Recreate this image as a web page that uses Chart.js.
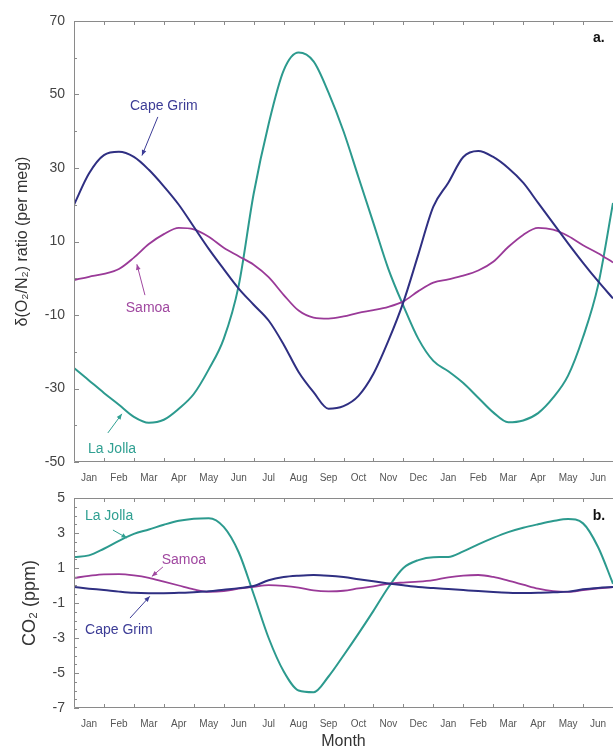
<!DOCTYPE html>
<html lang="en">

<head>
    <meta charset="UTF-8">
    <title>O2/N2 and CO2 seasonal cycles</title>
    <script src="https://cdn.jsdelivr.net/npm/chart.js"></script>
    <style>
        body { margin: 0; background: #fff; }
        #wrap { position: relative; width: 613px; height: 751px; }
        #grafico1 { position: absolute; left: 0; top: 0; }
        #grafico2 { position: absolute; left: 0; top: 485px; }
    </style>
</head>

<body>
    <div id="wrap">
        <canvas id="grafico1" width="613" height="485"></canvas>
        <canvas id="grafico2" width="613" height="266"></canvas>
    </div>

<script>
    // months from the start of the record (0 = start of Jan), every half month
    var monthPos = [0, 0.5, 1, 1.5, 2, 2.5, 3, 3.5, 4, 4.5, 5, 5.5, 6, 6.5, 7, 7.5, 8, 8.5, 9,
        9.5, 10, 10.5, 11, 11.5, 12, 12.5, 13, 13.5, 14, 14.5, 15, 15.5, 16, 16.5, 17, 17.5, 18];
    var monthLabels = ['Jan', 'Feb', 'Mar', 'Apr', 'May', 'Jun', 'Jul', 'Aug', 'Sep', 'Oct', 'Nov', 'Dec',
        'Jan', 'Feb', 'Mar', 'Apr', 'May', 'Jun'];

    // panel a: d(O2/N2), per meg
    var capeGrimO2 = [20, 28.5, 33.5, 34.4, 33, 29.5, 25, 20, 14, 8, 2.5, -2.8, -7.2, -11.5, -18, -25.5, -31, -35.5, -34.8,
        -32, -26, -17, -6.5, 6.5, 19.5, 26, 33, 34.6, 33, 30, 26, 20.5, 15, 9.5, 4.2, -0.8, -5.5];
    var samoaO2 = [-0.5, 0.4, 1.2, 2.5, 5.6, 9.3, 12, 13.7, 13.3, 11.3, 8.3, 6, 3.7, 0.3, -4.5, -8.8, -10.7, -11, -10.4,
        -9.4, -8.7, -7.8, -6.3, -3.5, -1.2, -0.3, 0.7, 2.1, 4.5, 8.5, 11.8, 13.7, 13.2, 11.5, 9, 6.8, 4.3];
    var laJollaO2 = [-24.4, -27.8, -31.2, -34.4, -37.7, -39.3, -38.5, -35.5, -31.5, -24.8, -16.5, -2, 23, 42, 56.5, 61.4, 59, 50.5, 40,
        27.5, 15, 2.5, -7.5, -16.5, -22.5, -25.3, -28.5, -32.5, -36.5, -39.2, -38.7, -36.7, -32.5, -26.5, -16, -2, 20.5];

    // panel b: CO2, ppm
    var capeGrimCO2 = [-0.09, -0.18, -0.26, -0.35, -0.42, -0.44, -0.44, -0.42, -0.38, -0.33, -0.24, -0.15, -0.03, 0.3, 0.48, 0.56, 0.6, 0.56, 0.48,
        0.36, 0.24, 0.12, 0.01, -0.09, -0.14, -0.2, -0.26, -0.32, -0.37, -0.41, -0.43, -0.42, -0.39, -0.35, -0.22, -0.14, -0.09];
    var samoaCO2 = [0.43, 0.55, 0.64, 0.65, 0.58, 0.44, 0.22, 0, -0.22, -0.36, -0.32, -0.18, -0.08, 0.02, -0.02, -0.12, -0.28, -0.33, -0.3,
        -0.17, -0.05, 0.1, 0.17, 0.22, 0.31, 0.47, 0.57, 0.6, 0.49, 0.28, 0.05, -0.18, -0.32, -0.36, -0.27, -0.17, -0.09];
    var laJollaCO2 = [1.63, 1.72, 2.1, 2.55, 2.95, 3.2, 3.47, 3.7, 3.82, 3.85, 3.35, 1.9, -0.5, -3, -4.9, -6, -6.1, -5.2, -4,
        -2.75, -1.45, -0.1, 1, 1.45, 1.62, 1.63, 1.95, 2.35, 2.72, 3.05, 3.3, 3.5, 3.68, 3.8, 3.55, 2.2, 0.1];

    var ticksA = [-50, -30, -10, 10, 30, 50, 70];
    var ticksB = [-7, -5, -3, -1, 1, 3, 5];

    var corCapeGrim = '#2f2f82';
    var corSamoa = '#9a3a98';
    var corLaJolla = '#2c9a8e';

    Chart.defaults.font.family = "'Liberation Sans', Arial, sans-serif";
    Chart.defaults.color = '#444';

    function serie(valores) {
        return monthPos.map(function (m, i) { return { x: m, y: valores[i] }; });
    }

    function linha(nome, valores, cor, largura) {
        return {
            label: nome,
            data: serie(valores),
            borderColor: cor,
            borderWidth: largura,
            pointRadius: 0,
            cubicInterpolationMode: 'monotone',
            fill: false
        };
    }

    // frame, inward tick marks and the hand-placed curve labels
    var molduraPlugin = {
        id: 'moldura',
        afterDraw: function (chart, args, opts) {
            var ctx = chart.ctx;
            var a = chart.chartArea;
            var x = chart.scales.x;
            var y = chart.scales.y;
            ctx.save();
            ctx.strokeStyle = '#8a8a8a';
            ctx.lineWidth = 1;
            ctx.beginPath();
            ctx.moveTo(a.right + 2, a.top + 0.5);
            ctx.lineTo(a.left + 0.5, a.top + 0.5);
            ctx.lineTo(a.left + 0.5, a.bottom - 0.5);
            ctx.lineTo(a.right + 2, a.bottom - 0.5);
            ctx.stroke();

            ctx.beginPath();
            for (var m = 1; m <= 18; m++) {
                var px = Math.round(x.getPixelForValue(m)) + 0.5;
                ctx.moveTo(px, a.top); ctx.lineTo(px, a.top + 4);
                ctx.moveTo(px, a.bottom); ctx.lineTo(px, a.bottom - 4);
            }
            for (var v = y.min; v <= y.max + 1e-9; v += opts.passoMenor) {
                var py = Math.round(y.getPixelForValue(v)) + 0.5;
                var major = opts.maiores.indexOf(Math.round(v * 100) / 100) >= 0;
                ctx.moveTo(a.left, py); ctx.lineTo(a.left + (major ? 5 : 3), py);
            }
            ctx.stroke();

            ctx.textAlign = 'center';
            ctx.textBaseline = 'middle';
            opts.notas.forEach(function (n) {
                ctx.fillStyle = n.cor;
                ctx.font = (n.negrito ? 'bold ' : '') + n.tam + "px 'Liberation Sans', Arial, sans-serif";
                ctx.fillText(n.texto, x.getPixelForValue(n.x), y.getPixelForValue(n.y));
                if (n.seta) {
                    var x0 = x.getPixelForValue(n.seta[0]), y0 = y.getPixelForValue(n.seta[1]);
                    var x1 = x.getPixelForValue(n.seta[2]), y1 = y.getPixelForValue(n.seta[3]);
                    var ang = Math.atan2(y1 - y0, x1 - x0);
                    ctx.strokeStyle = n.cor;
                    ctx.lineWidth = 1;
                    ctx.beginPath();
                    ctx.moveTo(x0, y0); ctx.lineTo(x1, y1);
                    ctx.stroke();
                    ctx.beginPath();
                    ctx.moveTo(x1, y1);
                    ctx.lineTo(x1 - 6 * Math.cos(ang - 0.4), y1 - 6 * Math.sin(ang - 0.4));
                    ctx.lineTo(x1 - 6 * Math.cos(ang + 0.4), y1 - 6 * Math.sin(ang + 0.4));
                    ctx.closePath();
                    ctx.fill();
                }
            });
            ctx.restore();
        }
    };

    function eixoX(altura, titulo) {
        return {
            type: 'linear',
            min: 0,
            max: 18,
            grid: { display: false, drawTicks: false },
            border: { display: false },
            afterBuildTicks: function (scale) {
                scale.ticks = monthLabels.map(function (l, i) { return { value: i + 0.5 }; });
            },
            afterFit: function (scale) {
                scale.height = altura;
                scale.paddingLeft = 0;
                scale.paddingRight = 0;
            },
            ticks: {
                autoSkip: false,
                maxRotation: 0,
                padding: 10,
                font: { size: 10 },
                color: '#555',
                callback: function (v, i) { return monthLabels[i]; }
            },
            title: {
                display: !!titulo,
                text: titulo || '',
                font: { size: 16 },
                color: '#333',
                padding: { top: 0, bottom: 0 }
            }
        };
    }

    function eixoY(min, max, marcas, titulo, tamTitulo, padTitulo) {
        return {
            min: min,
            max: max,
            grid: { display: false, drawTicks: false },
            border: { display: false },
            afterBuildTicks: function (scale) {
                scale.ticks = marcas.map(function (v) { return { value: v }; });
            },
            afterFit: function (scale) {
                scale.width = 74;
                scale.paddingTop = 0;
                scale.paddingBottom = 0;
            },
            ticks: { padding: 9, font: { size: 14 }, color: '#444' },
            title: {
                display: true,
                text: titulo,
                font: { size: tamTitulo },
                color: '#333',
                padding: { top: padTitulo, bottom: 0 }
            }
        };
    }

    var ctx1 = document.getElementById('grafico1');
    var ctx2 = document.getElementById('grafico2');

    new Chart(ctx1, {
        type: 'line',
        data: {
            datasets: [
                linha('Cape Grim', capeGrimO2, corCapeGrim, 2),
                linha('Samoa', samoaO2, corSamoa, 1.8),
                linha('La Jolla', laJollaO2, corLaJolla, 2)
            ]
        },
        options: {
            responsive: false,
            animation: false,
            layout: { padding: { top: 21, right: 0, bottom: 0, left: 0 } },
            scales: {
                x: eixoX(23),
                y: eixoY(-50, 70, ticksA, 'δ(O₂/N₂) ratio (per meg)', 16, 13)
            },
            plugins: {
                legend: { display: false },
                tooltip: { enabled: false },
                moldura: {
                    passoMenor: 10,
                    maiores: ticksA,
                    notas: [
                        { texto: 'Cape Grim', x: 3.0, y: 46.9, cor: '#3c3c96', tam: 14, seta: [2.8, 43.9, 2.27, 33.4] },
                        { texto: 'Samoa', x: 2.47, y: -8.1, cor: '#a048a0', tam: 14, seta: [2.37, -4.6, 2.1, 3.8] },
                        { texto: 'La Jolla', x: 1.27, y: -46.5, cor: '#30a092', tam: 14, seta: [1.13, -42.1, 1.6, -36.9] },
                        { texto: 'a.', x: 17.53, y: 65.4, cor: '#111', tam: 14, negrito: true }
                    ]
                }
            }
        },
        plugins: [molduraPlugin]
    });

    new Chart(ctx2, {
        type: 'line',
        data: {
            datasets: [
                linha('Cape Grim', capeGrimCO2, corCapeGrim, 2),
                linha('Samoa', samoaCO2, corSamoa, 1.8),
                linha('La Jolla', laJollaCO2, corLaJolla, 2)
            ]
        },
        options: {
            responsive: false,
            animation: false,
            layout: { padding: { top: 13, right: 0, bottom: 0, left: 0 } },
            scales: {
                x: eixoX(43, 'Month'),
                y: eixoY(-7, 5, ticksB, 'CO₂ (ppm)', 18, 19)
            },
            plugins: {
                legend: { display: false },
                tooltip: { enabled: false },
                moldura: {
                    passoMenor: 0.5,
                    maiores: ticksB,
                    notas: [
                        { texto: 'La Jolla', x: 1.17, y: 3.97, cor: '#30a092', tam: 14, seta: [1.3, 3.17, 1.77, 2.71] },
                        { texto: 'Samoa', x: 3.67, y: 1.46, cor: '#a048a0', tam: 14, seta: [2.97, 1.06, 2.6, 0.52] },
                        { texto: 'Cape Grim', x: 1.5, y: -2.54, cor: '#3c3c96', tam: 14, seta: [1.87, -1.86, 2.53, -0.62] },
                        { texto: 'b.', x: 17.53, y: 3.97, cor: '#111', tam: 14, negrito: true }
                    ]
                }
            }
        },
        plugins: [molduraPlugin]
    });
</script>

</body>

</html>
